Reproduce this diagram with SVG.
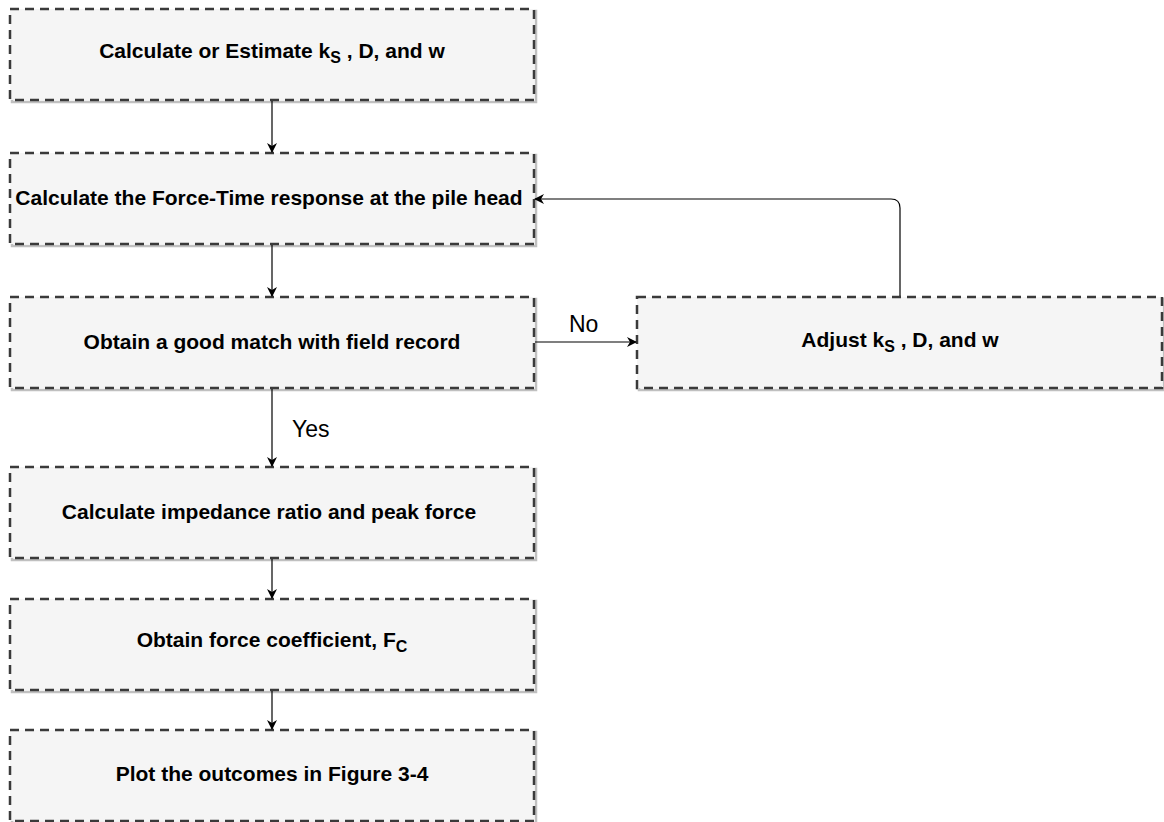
<svg xmlns="http://www.w3.org/2000/svg" width="1164" height="822" viewBox="0 0 1164 822">
<defs>
<style>
.box{fill:#f5f5f5;stroke:#3a3a3a;stroke-width:2.5;stroke-dasharray:9 6;}
.shadow{fill:none;stroke:#c0c0c0;stroke-width:2.5;}
.t{font-family:"Liberation Sans",Arial,sans-serif;font-weight:bold;font-size:21px;fill:#000;text-anchor:middle;}
.lbl{font-family:"Liberation Sans",Arial,sans-serif;font-size:23px;fill:#000;}
.edge{fill:none;stroke:#000;stroke-width:1.2;}
</style>
<marker id="arr" viewBox="0 0 10 10" refX="9" refY="5" markerWidth="10" markerHeight="10" markerUnits="userSpaceOnUse" orient="auto">
<path d="M0,0 L10,5 L0,10 L3,5 Z" fill="#000"/>
</marker>
</defs>
<rect width="1164" height="822" fill="#ffffff"/>
<g id="n1">
<rect class="shadow" x="12" y="11" width="524" height="91"/>
<rect class="box" x="10" y="9" width="524" height="91"/>
<text class="t" x="272" y="58">Calculate or Estimate k<tspan font-size="16" dy="5">S</tspan><tspan dy="-5"> , D, and w</tspan></text>
</g>
<g id="n2">
<rect class="shadow" x="12" y="155" width="524" height="91"/>
<rect class="box" x="10" y="153" width="524" height="91"/>
<text class="t" x="269" y="205">Calculate the Force-Time response at the pile head</text>
</g>
<g id="n3">
<rect class="shadow" x="12" y="299" width="524" height="91"/>
<rect class="box" x="10" y="297" width="524" height="91"/>
<text class="t" x="272" y="349">Obtain a good match with field record</text>
</g>
<g id="n4">
<rect class="shadow" x="639" y="299" width="525" height="91"/>
<rect class="box" x="637" y="297" width="525" height="91"/>
<text class="t" x="900" y="347">Adjust k<tspan font-size="16" dy="5">S</tspan><tspan dy="-5"> , D, and w</tspan></text>
</g>
<g id="n5">
<rect class="shadow" x="12" y="469" width="524" height="91"/>
<rect class="box" x="10" y="467" width="524" height="91"/>
<text class="t" x="269" y="519">Calculate impedance ratio and peak force</text>
</g>
<g id="n6">
<rect class="shadow" x="12" y="601" width="524" height="91"/>
<rect class="box" x="10" y="599" width="524" height="91"/>
<text class="t" x="272" y="647">Obtain force coefficient, F<tspan font-size="16" dy="5">C</tspan></text>
</g>
<g id="n7">
<rect class="shadow" x="12" y="732" width="524" height="91"/>
<rect class="box" x="10" y="730" width="524" height="91"/>
<text class="t" x="272" y="781">Plot the outcomes in Figure 3-4</text>
</g>
<g id="edges">
<path class="edge" d="M272,101 L272,152" marker-end="url(#arr)"/>
<path class="edge" d="M272,245 L272,296" marker-end="url(#arr)"/>
<path class="edge" d="M272,389 L272,466" marker-end="url(#arr)"/>
<path class="edge" d="M272,559 L272,598" marker-end="url(#arr)"/>
<path class="edge" d="M272,691 L272,729" marker-end="url(#arr)"/>
<path class="edge" d="M535,342 L636,342" marker-end="url(#arr)"/>
<path class="edge" d="M900,296 L900,208 Q900,199 891,199 L535,199" marker-end="url(#arr)"/>
<text class="lbl" x="292" y="437">Yes</text>
<text class="lbl" x="569" y="332">No</text>
</g>
</svg>
